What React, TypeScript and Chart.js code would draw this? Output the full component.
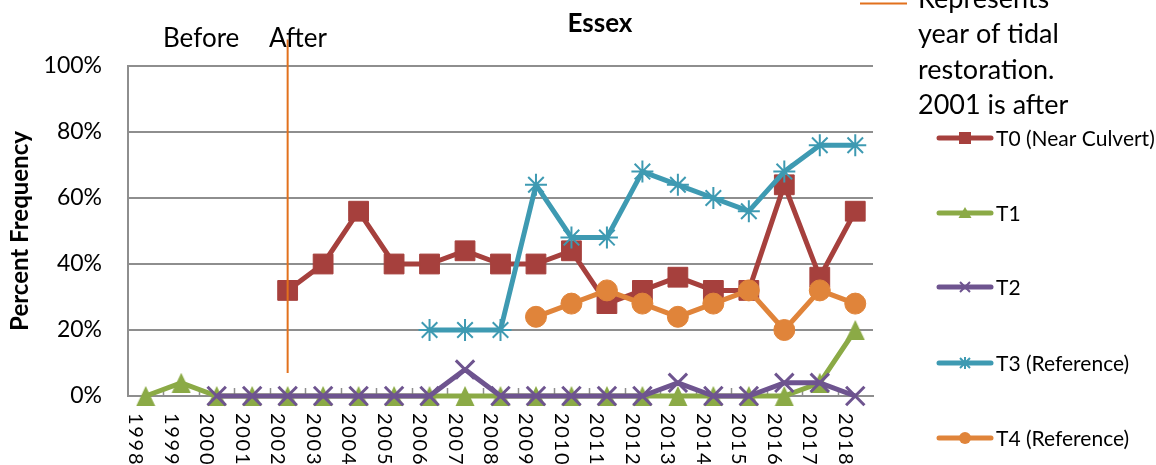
import React, { useEffect, useRef } from 'react';
import { Chart, registerables } from 'chart.js';

Chart.register(...registerables);

const years = ['1998','1999','2000','2001','2002','2003','2004','2005','2006','2007','2008','2009','2010','2011','2012','2013','2014','2015','2016','2017','2018'];
const t0 = [null,null,null,null,32,40,56,40,40,44,40,40,44,28,32,36,32,32,64,36,56];
const t1 = [0,4,0,0,0,0,0,0,0,0,0,0,0,0,0,0,0,0,0,4,20];
const t2 = [null,null,0,0,0,0,0,0,0,8,0,0,0,0,0,4,0,0,4,4,0];
const t3 = [null,null,null,null,null,null,null,null,20,20,20,64,48,48,68,64,60,56,68,76,76];
const t4 = [null,null,null,null,null,null,null,null,null,null,null,24,28,32,28,24,28,32,20,32,28];
const seriesNames = ['T0 (Near Culvert)', 'T1', 'T2', 'T3 (Reference)', 'T4 (Reference)'];
const yTicks = [0, 20, 40, 60, 80, 100];
const restorationYear = '2002';
const restorationLineRange = [7, 108];
const noteLines = ['Represents', 'year of tidal', 'restoration.', '2001 is after'];

const FONT = 'Lato, "Noto Sans", sans-serif';
const GRID = '#8e8e8e';
const colors = ['#A6403D', '#8BAA46', '#6E548F', '#3E9AB2', '#E0843A'];
const ORANGE_LINE = '#E2711D';

const styles = [
  { pointStyle: 'rect', radius: 14, borderWidth: 1 },
  { pointStyle: 'triangle', radius: 12, borderWidth: 0 },
  { pointStyle: 'crossRot', radius: 13, borderWidth: 3 },
  { pointStyle: 'star', radius: 11, borderWidth: 2 },
  { pointStyle: 'circle', radius: 10.5, borderWidth: 1 },
];

function makeTriangle(color: string) {
  const c = document.createElement('canvas');
  c.width = 20;
  c.height = 20;
  const g = c.getContext('2d') as CanvasRenderingContext2D;
  g.fillStyle = color;
  g.beginPath();
  g.moveTo(10, 0);
  g.lineTo(19.5, 20);
  g.lineTo(0.5, 20);
  g.closePath();
  g.fill();
  return c;
}

function legendMarker(ctx: CanvasRenderingContext2D, kind: string, color: string, x: number, y: number) {
  ctx.save();
  ctx.fillStyle = color;
  ctx.strokeStyle = color;
  ctx.lineWidth = 2;
  ctx.lineCap = 'butt';
  if (kind === 'rect') {
    ctx.fillRect(x - 6, y - 6, 12, 12);
  } else if (kind === 'triangle') {
    ctx.beginPath();
    ctx.moveTo(x, y - 6);
    ctx.lineTo(x + 6.5, y + 5);
    ctx.lineTo(x - 6.5, y + 5);
    ctx.closePath();
    ctx.fill();
  } else if (kind === 'crossRot') {
    ctx.beginPath();
    ctx.moveTo(x - 5, y - 5); ctx.lineTo(x + 5, y + 5);
    ctx.moveTo(x + 5, y - 5); ctx.lineTo(x - 5, y + 5);
    ctx.stroke();
  } else if (kind === 'star') {
    ctx.beginPath();
    ctx.moveTo(x - 5, y - 5); ctx.lineTo(x + 5, y + 5);
    ctx.moveTo(x + 5, y - 5); ctx.lineTo(x - 5, y + 5);
    ctx.moveTo(x, y - 6); ctx.lineTo(x, y + 6);
    ctx.stroke();
  } else {
    ctx.beginPath();
    ctx.arc(x, y, 6, 0, Math.PI * 2);
    ctx.fill();
  }
  ctx.restore();
}

const annotPlugin = {
  id: 'annot',
  beforeDatasetsDraw(chart: any) {
    const { ctx, chartArea } = chart;
    const n = years.length;
    const step = (chartArea.right - chartArea.left) / n;
    ctx.save();
    ctx.strokeStyle = GRID;
    ctx.lineWidth = 1.5;
    for (let i = 1; i < n; i++) {
      const px = Math.round(chartArea.left + i * step) + 0.5;
      ctx.beginPath();
      ctx.moveTo(px, chartArea.bottom);
      ctx.lineTo(px, chartArea.bottom - 8);
      ctx.stroke();
    }
    ctx.restore();
  },
  afterDatasetsDraw(chart: any) {
    const { ctx, scales } = chart;
    const px = scales.x.getPixelForValue(years.indexOf(restorationYear));
    ctx.save();
    ctx.strokeStyle = ORANGE_LINE;
    ctx.lineWidth = 2;
    ctx.beginPath();
    ctx.moveTo(px, scales.y.getPixelForValue(restorationLineRange[1]));
    ctx.lineTo(px, scales.y.getPixelForValue(restorationLineRange[0]));
    ctx.stroke();
    ctx.restore();
  },
  afterDraw(chart: any) {
    const { ctx, scales, chartArea } = chart;
    ctx.save();
    ctx.fillStyle = '#000';
    ctx.font = `bold 26px ${FONT}`;
    ctx.textAlign = 'center';
    ctx.textBaseline = 'alphabetic';
    ctx.fillText('Essex', 600, 32);
    ctx.font = `26px ${FONT}`;
    ctx.textAlign = 'left';
    ctx.fillText('Before', 163, 47);
    ctx.fillText('After', 269, 47);
    ctx.font = `20px ${FONT}`;
    years.forEach((lab, i) => {
      const cx = scales.x.getPixelForValue(i);
      ctx.save();
      ctx.translate(cx - 16.5, chartArea.bottom + 17);
      ctx.rotate(Math.PI / 2);
      ctx.textAlign = 'left';
      ctx.textBaseline = 'alphabetic';
      for (let k = 0; k < lab.length; k++) {
        ctx.fillText(lab[k], k * 13.3, 0);
      }
      ctx.restore();
    });
    ctx.font = `27px ${FONT}`;
    ctx.textAlign = 'left';
    ctx.textBaseline = 'alphabetic';
    noteLines.forEach((t, i) => ctx.fillText(t, 918, 8 + i * 35.3));
    ctx.strokeStyle = ORANGE_LINE;
    ctx.lineWidth = 2;
    ctx.beginPath();
    ctx.moveTo(860, 3.5);
    ctx.lineTo(907, 3.5);
    ctx.stroke();
    const ys = [138, 213, 287, 363, 438];
    chart.data.datasets.forEach((ds: any, i: number) => {
      const y = ys[i];
      ctx.strokeStyle = ds.borderColor;
      ctx.lineWidth = 5;
      ctx.lineCap = 'round';
      ctx.beginPath();
      ctx.moveTo(939, y);
      ctx.lineTo(991, y);
      ctx.stroke();
      legendMarker(ctx, styles[i].pointStyle, ds.borderColor, 965, y);
      ctx.fillStyle = '#000';
      ctx.font = `21px ${FONT}`;
      ctx.textBaseline = 'middle';
      ctx.fillText(ds.label, 996, y + 1);
    });
    ctx.restore();
  },
};

export default function App() {
  const ref = useRef<HTMLCanvasElement | null>(null);
  useEffect(() => {
    document.body.style.margin = '0';
    const all = [t0, t1, t2, t3, t4];
    const chart = new Chart(ref.current as HTMLCanvasElement, {
      type: 'line',
      data: {
        labels: years,
        datasets: all.map((d, i) => ({
          label: seriesNames[i],
          data: d,
          borderColor: colors[i],
          backgroundColor: colors[i],
          pointBackgroundColor: colors[i],
          pointBorderColor: colors[i],
          borderWidth: 5,
          borderJoinStyle: 'round' as const,
          pointStyle: (styles[i].pointStyle === 'triangle' ? makeTriangle(colors[i]) : styles[i].pointStyle) as any,
          pointRadius: styles[i].radius,
          pointBorderWidth: styles[i].borderWidth,
          spanGaps: false,
          tension: 0,
          clip: false as any,
          order: 4 - i,
        })),
      },
      options: {
        animation: false,
        responsive: false,
        devicePixelRatio: 1,
        layout: { padding: { top: 66, right: 283, left: 0, bottom: 0 } },
        plugins: { legend: { display: false }, title: { display: false }, tooltip: { enabled: false } },
        scales: {
          x: {
            offset: true,
            grid: { display: false, offset: true },
            border: { display: true, color: GRID, width: 2 },
            ticks: { display: false },
            afterFit: (s: any) => { s.height = 69; },
          },
          y: {
            min: 0,
            max: 100,
            afterBuildTicks: (s: any) => { s.ticks = yTicks.map((v) => ({ value: v })); },
            grid: { color: GRID, lineWidth: 2, drawTicks: false },
            border: { display: true, color: GRID, width: 2 },
            ticks: {
              padding: 26,
              color: '#000',
              font: { family: FONT, size: 23 },
              callback: (v: any) => `${v}%`,
            },
            title: {
              display: true,
              text: 'Percent Frequency',
              color: '#000',
              font: { family: FONT, size: 24, weight: 'bold' },
              padding: { top: 6, bottom: 0 },
            },
            afterFit: (s: any) => { s.width = 128; },
          },
        },
      },
      plugins: [annotPlugin],
    });
    return () => chart.destroy();
  }, []);
  return (
    <div style={{ width: 1156, height: 465, position: 'relative', overflow: 'hidden' }}>
      <canvas ref={ref} width={1156} height={465} style={{ display: 'block' }} />
    </div>
  );
}
